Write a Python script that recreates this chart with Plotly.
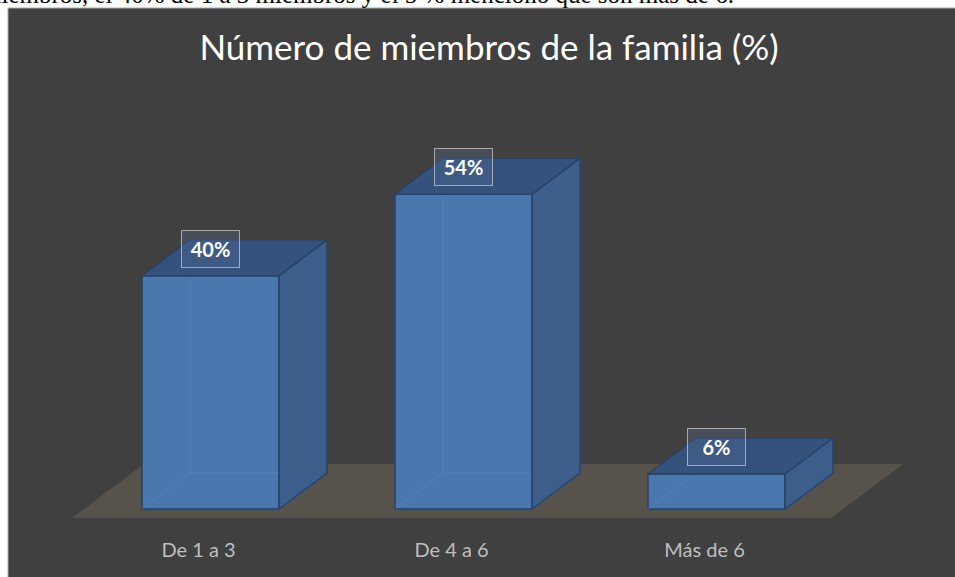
import plotly.graph_objects as go

# ---- data ----
categories = ["De 1 a 3", "De 4 a 6", "Más de 6"]
values = [40, 54, 6]
title_text = "Número de miembros de la familia (%)"
page_text = "miembros, el 40% de 1 a 3 miembros y el 5 % mencionó que son más de 6."

# ---- geometry (axis units) ----
PXX = 253.0    # px per category unit
PXY = 5.83     # px per percent
L, R, T, B = 10, 7, 100, 41
W_PLOT = 955 - L - R
H_PLOT = 577 - T - B
X0_PX = 210.5  # pixel of category 0 centre
Y0_PX = 509.0  # pixel of value 0
xr = [(L - X0_PX) / PXX, (955 - R - X0_PX) / PXX]
yr = [-(577 - B - Y0_PX) / PXY, (Y0_PX - T) / PXY]

BW = 137 / PXX        # bar front width
DX = 48 / PXX         # depth offset x
DY = 36 / PXY         # depth offset y

FRONT = "#4a77ad"
TOP = "#34527c"
SIDE = "#3d5e8b"
EDGE = "#27436b"
BG = "#404040"
FLOOR = "#57534a"

xs = list(range(len(categories)))

fig = go.Figure()

# front faces
fig.add_trace(go.Bar(x=xs, y=values, width=BW, marker=dict(color=FRONT, line=dict(color=EDGE, width=1.5)),
                     hoverinfo="skip", showlegend=False))

# hidden back edges visible through the front face
hx, hy = [], []
for i, v in zip(xs, values):
    l = i - BW / 2
    hx += [l, l + DX, i + BW / 2 + DX, None, l + DX, l + DX, None]
    hy += [0, DY, DY, None, DY, v + DY, None]
fig.add_trace(go.Scatter(x=hx, y=hy, mode="lines", line=dict(color="rgba(95,140,200,0.45)", width=1),
                         hoverinfo="skip", showlegend=False))

# side faces
sx, sy = [], []
for i, v in zip(xs, values):
    r = i + BW / 2
    sx += [r, r + DX, r + DX, r, r, None]
    sy += [0, DY, v + DY, v, 0, None]
fig.add_trace(go.Scatter(x=sx, y=sy, mode="lines", fill="toself", fillcolor=SIDE,
                         line=dict(color=EDGE, width=1.5), hoverinfo="skip", showlegend=False))

# top faces
tx, ty = [], []
for i, v in zip(xs, values):
    l, r = i - BW / 2, i + BW / 2
    tx += [l, r, r + DX, l + DX, l, None]
    ty += [v, v, v + DY, v + DY, v, None]
fig.add_trace(go.Scatter(x=tx, y=ty, mode="lines", fill="toself", fillcolor=TOP,
                         line=dict(color=EDGE, width=1.5), hoverinfo="skip", showlegend=False))

# floor
fl, fr = -0.5, len(categories) - 0.5
floor_path = (f"M {fl - 0.25*DX},{-0.25*DY} L {fr - 0.25*DX},{-0.25*DY} "
              f"L {fr + 1.25*DX},{1.25*DY} L {fl + 1.25*DX},{1.25*DY} Z")

shapes = [
    dict(type="rect", xref="paper", yref="paper", layer="below",
         x0=(8 - L) / W_PLOT, x1=(960 - L) / W_PLOT,
         y0=-(B + 5) / H_PLOT, y1=(577 - B - 8) / H_PLOT,
         fillcolor=BG, line=dict(color="#a8a8a8", width=1)),
    dict(type="path", xref="x", yref="y", layer="below", path=floor_path,
         fillcolor=FLOOR, line=dict(width=0)),
]

annotations = []
for i, v in zip(xs, values):
    annotations.append(dict(x=i, y=v + 4.6, xref="x", yref="y", text=f"<b>{v}%</b>", showarrow=False,
                            font=dict(family="Lato", size=20, color="white"),
                            bgcolor="rgba(90,120,165,0.25)", bordercolor="rgba(200,200,200,0.75)",
                            borderwidth=1, borderpad=1, width=55, height=34))
annotations.append(dict(x=(736 - L) / W_PLOT, y=(577 - B + 5) / H_PLOT, xref="paper", yref="paper",
                        xanchor="right", yanchor="middle", text=page_text, showarrow=False,
                        font=dict(family="Liberation Serif", size=25, color="black")))

fig.update_layout(
    width=955, height=577,
    margin=dict(l=L, r=R, t=T, b=B, pad=0),
    paper_bgcolor="white", plot_bgcolor="rgba(0,0,0,0)",
    title=dict(text=title_text, x=489 / 955, xanchor="center", y=1 - 48 / 577, yanchor="middle",
               xref="container", yref="container", font=dict(family="Lato", size=35, color="white")),
    xaxis=dict(range=xr, tickvals=[i - 0.25 * DX for i in xs], ticktext=categories,
               tickfont=dict(family="Lato", size=20, color="#bfbfbf"),
               showgrid=False, zeroline=False, showline=False, ticks=""),
    yaxis=dict(range=yr, visible=False),
    shapes=shapes, annotations=annotations, showlegend=False,
)

fig.write_html("out.html", config={"displayModeBar": False},
               post_script="document.body.style.margin='0';document.body.style.overflow='hidden';")
